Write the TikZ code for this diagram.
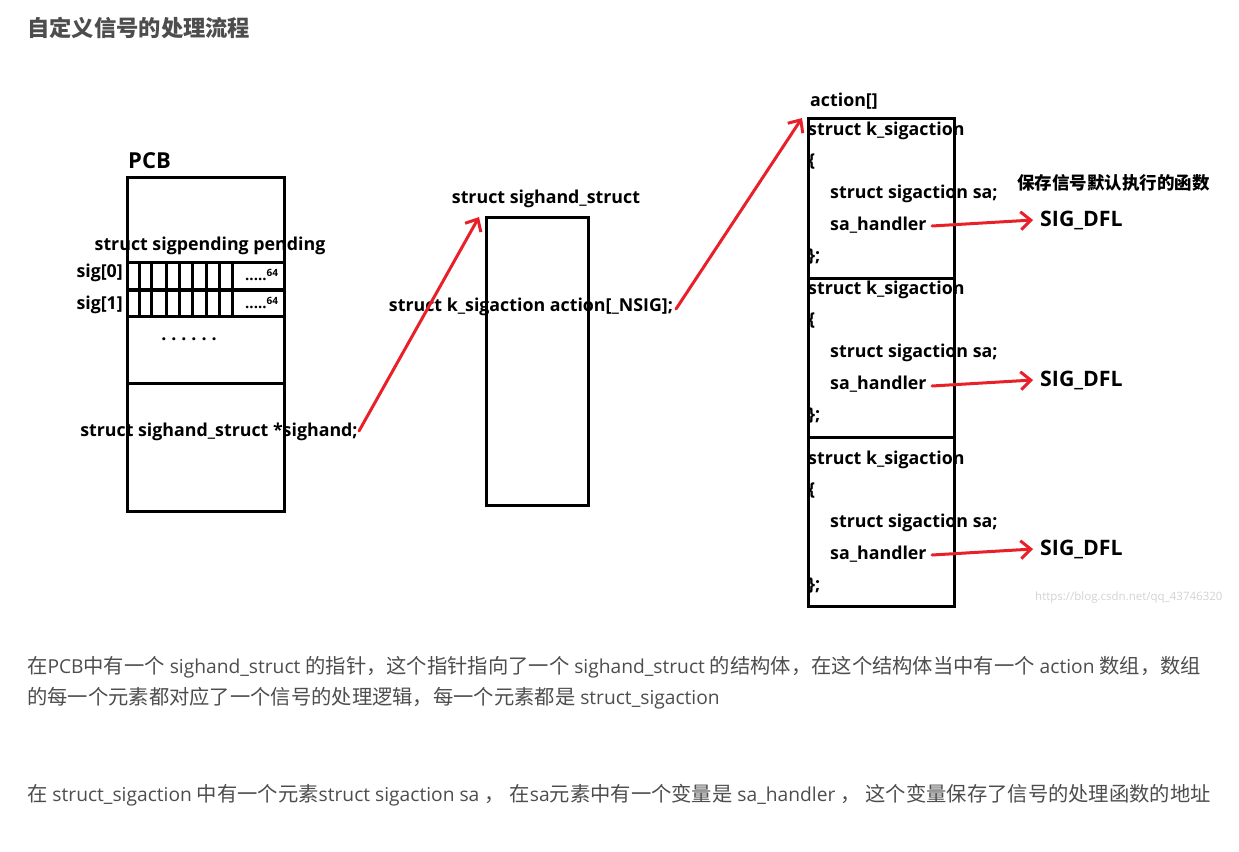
\documentclass[tikz,border=0pt]{standalone}
\usepackage{fontspec}
\setmainfont{Open Sans}
\newfontfamily\cjk{Noto Sans CJK SC}
\usetikzlibrary{arrows.meta}
\definecolor{arrred}{HTML}{E8202A}
\definecolor{txtgray}{HTML}{4D4D4D}
\definecolor{wmgray}{HTML}{D2D2D2}
\newcommand{\zh}[1]{{\cjk\fontsize{20.3}{23}\selectfont #1}}
\newcommand{\sixtyfour}{\fontsize{15}{16}\selectfont\bfseries .....\raisebox{4pt}{\fontsize{10}{11}\selectfont 64}}
\begin{document}
\begin{tikzpicture}[x=1pt,y=-1pt,
  box/.style={draw=black, line width=3pt, inner sep=0pt, anchor=north west},
  rule/.style={draw=black, line width=3pt},
  lbl/.style={font=\fontsize{17.8}{21}\selectfont\bfseries, inner sep=0pt},
  big/.style={font=\fontsize{21.3}{25}\selectfont\bfseries, inner sep=0pt},
  note/.style={font=\cjk\fontsize{17.5}{20}\selectfont\bfseries, inner sep=0pt},
  para/.style={font=\fontsize{19.2}{23}\selectfont, text=txtgray, inner sep=0pt, anchor=west},
  redarrow/.style={draw=arrred, line width=3pt, line cap=round, -{Straight Barb[length=10pt,width=18pt,line width=3pt]}},
]
\useasboundingbox (0,0) rectangle (1239,851);

% title
\node[font=\cjk\fontsize{22.3}{26}\selectfont\bfseries, text=txtgray, inner sep=0pt, anchor=west] (title) at (27,28) {自定义信号的处理流程};

% PCB
\node[font=\fontsize{22}{26}\selectfont\bfseries, inner sep=0pt, anchor=west] (pcblbl) at (128,161) {PCB};
\node[box, minimum width=157pt, minimum height=334pt] (pcb) at (126,176) {};
\draw[rule] (126,262) -- (283,262);
\draw[rule, line width=4pt] (126,289.5) -- (283,289.5);
\draw[rule] (126,316) -- (283,316);
\draw[rule] (126,383) -- (283,383);
\foreach \xx in {139,151,166,179,192,206,219,232} {
  \draw[rule] (\xx,262) -- (\xx,316);
}
\node[lbl] (pendlbl) at (210,246) {struct sigpending pending};
\node[lbl, anchor=east] (sig0) at (123,273) {sig[0]};
\node[lbl, anchor=east] (sig1) at (123,305) {sig[1]};
\node[inner sep=0pt, anchor=west] (dots0) at (245,275) {\sixtyfour};
\node[inner sep=0pt, anchor=west] (dots1) at (245,303) {\sixtyfour};
\node[lbl] (moredots) at (189,339) {.\hspace{5pt}.\hspace{5pt}.\hspace{5pt}.\hspace{5pt}.\hspace{5pt}.};
\node[lbl] (sighandptr) at (219,432) {struct sighand\_struct *sighand;};

% sighand_struct
\node[lbl] (shlbl) at (546,199) {struct sighand\_struct};
\node[box, minimum width=102pt, minimum height=288pt] (shbox) at (485,216) {};
\node[lbl] (actionarr) at (531,307) {struct k\_sigaction action[\_NSIG];};

% action[]
\node[lbl, anchor=west] (actlbl) at (810,101) {action[]};
\node[box, minimum width=146pt, minimum height=488pt] (actbox) at (807,117) {};
\draw[rule] (807,278) -- (953,278);
\draw[rule] (807,437) -- (953,437);

\foreach \yy/\nm in {0/a,159/b,329/c} {
  \node[lbl, anchor=west] (ks\nm) at (808,131+\yy) {struct k\_sigaction};
  \node[lbl, anchor=west] (ob\nm) at (808,162+\yy) {\{};
  \node[lbl, anchor=west] (sa\nm) at (830,194+\yy) {struct sigaction sa;};
  \node[lbl, anchor=west] (hd\nm) at (830,225+\yy) {sa\_handler};
  \node[lbl, anchor=west] (cb\nm) at (808,257+\yy) {\};};
}
\node[big, anchor=west] (dfla) at (1040,220) {SIG\_DFL};
\node[big, anchor=west] (dflb) at (1040,380) {SIG\_DFL};
\node[big, anchor=west] (dflc) at (1040,549) {SIG\_DFL};
\node[note, anchor=west] (savenote) at (1017,183) {保存信号默认执行的函数};

% watermark
\node[font=\fontsize{11.5}{13}\selectfont, text=wmgray, inner sep=0pt, anchor=west] (wm) at (1035,598) {https://blog.csdn.net/qq\_43746320};

% arrows
\coordinate (a1s) at (359,431);
\coordinate (a1e) at (479,217);
\coordinate (a2s) at (676,309);
\coordinate (a2e) at (802,118);
\draw[redarrow] (a1s) -- (a1e);
\draw[redarrow] (a2s) -- (a2e);
\coordinate (h1) at (932,226);
\coordinate (h2) at (932,386);
\coordinate (h3) at (932,555);
\draw[redarrow] (h1) -- ([xshift=-7pt]dfla.west);
\draw[redarrow] (h2) -- ([xshift=-7pt]dflb.west);
\draw[redarrow] (h3) -- ([xshift=-7pt]dflc.west);

% paragraphs
\node[para] (p1) at (27,667) {\zh{在}PCB\zh{中有一个} sighand\_struct \zh{的指针，这个指针指向了一个} sighand\_struct \zh{的结构体，在这个结构体当中有一个} action \zh{数组，数组}};
\node[para] (p2) at (27,698) {\zh{的每一个元素都对应了一个信号的处理逻辑，每一个元素都是} struct\_sigaction};
\node[para] (p3) at (27,795) {\zh{在} struct\_sigaction \zh{中有一个元素}struct sigaction sa \zh{，} \zh{在}sa\zh{元素中有一个变量是} sa\_handler \zh{，} \zh{这个变量保存了信号的处理函数的地址}};
\end{tikzpicture}
\end{document}
